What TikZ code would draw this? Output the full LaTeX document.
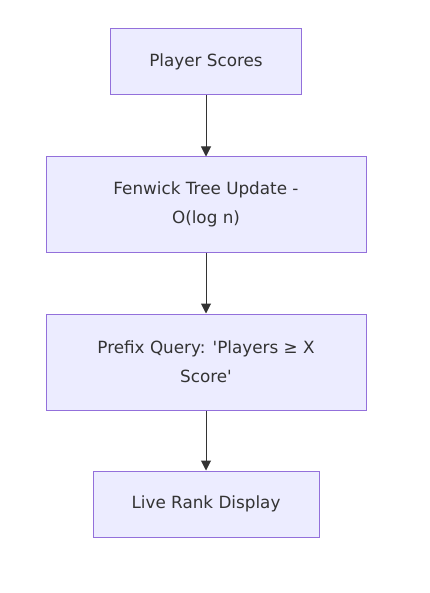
\documentclass[tikz,border=0pt]{standalone}
\usepackage{fontspec}
\setmainfont{DejaVu Sans}
\usetikzlibrary{arrows.meta, positioning}
\definecolor{nodefill}{HTML}{ECECFF}
\definecolor{nodeline}{HTML}{9370DB}
\definecolor{arrline}{HTML}{333333}

\begin{document}
\begin{tikzpicture}[
    x=1pt, y=-1pt,
    box/.style={draw=nodeline,fill=nodefill,line width=1pt,align=center,
                font=\fontsize{16.8}{29}\selectfont,text=arrline,
                inner sep=0pt},
    arr/.style={-{Triangle[length=10pt,width=10pt]},arrline,line width=1pt}
]
  \useasboundingbox (0,0) rectangle (429,593);

  % Four steps, top to bottom
  \node[box,minimum width=191pt,minimum height=66pt] (scores) at (206,62) {Player Scores};
  \node[box,minimum width=320pt,minimum height=95pt] (update) at (206,204.5) {Fenwick Tree Update -\\O(log n)};
  \node[box,minimum width=320pt,minimum height=96pt] (query) at (206,362) {Prefix Query: \textquotesingle Players ≥ X\\Score\textquotesingle};
  \node[box,minimum width=226pt,minimum height=66pt] (rank) at (206,504) {Live Rank Display};

  % Connectors
  \draw[arr] (scores) -- (update);
  \draw[arr] (update) -- (query);
  \draw[arr] (query) -- (rank);

\end{tikzpicture}
\end{document}
